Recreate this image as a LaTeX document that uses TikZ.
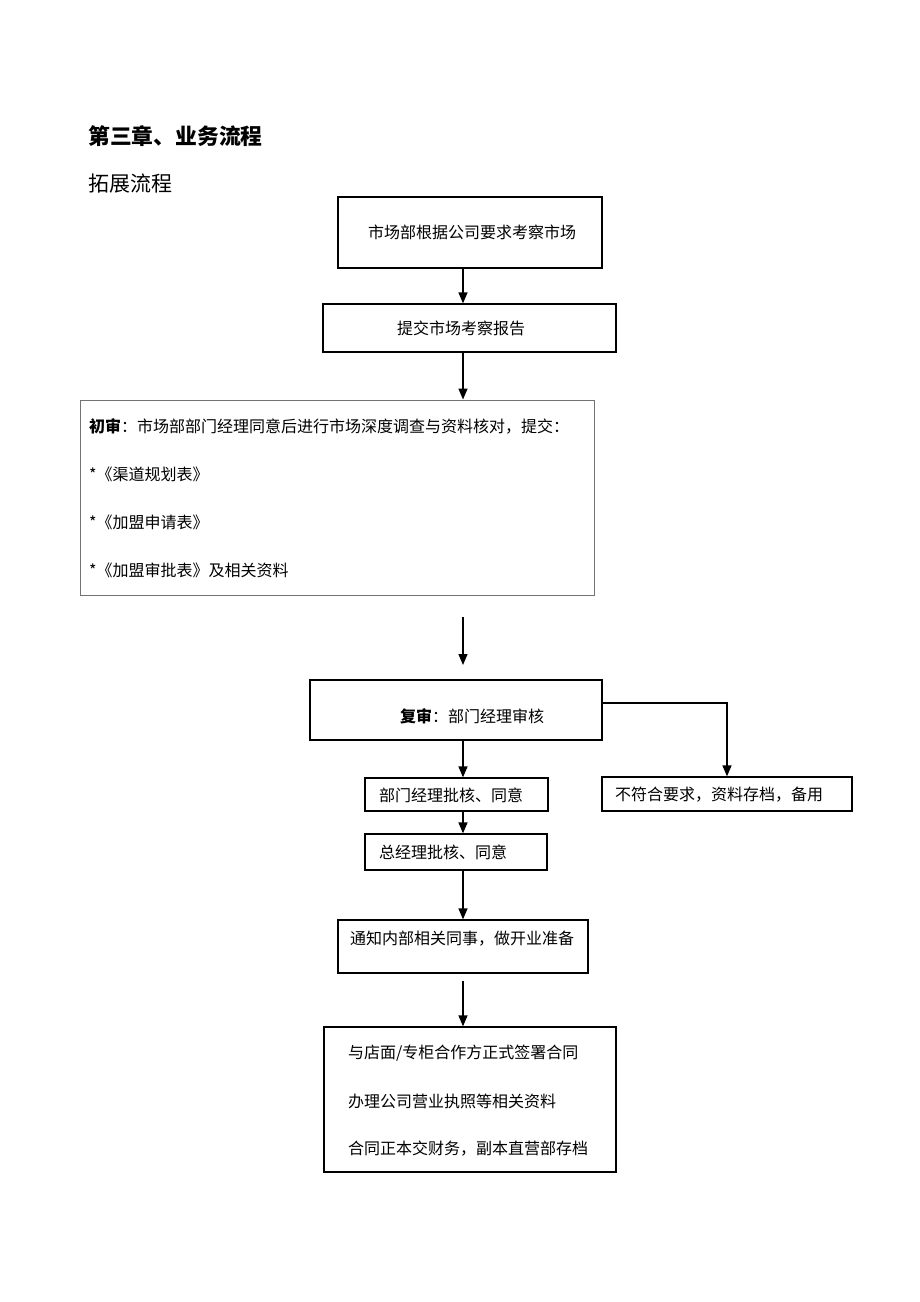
\documentclass[tikz,border=0pt]{standalone}
\usepackage{fontspec}
\setmainfont{Noto Sans CJK SC}
\newfontfamily\cjk{Noto Sans CJK SC}
\usetikzlibrary{arrows.meta}
\tikzset{
  box/.style={draw=black, line width=1.3pt, rectangle, inner sep=0pt},
  graybox/.style={draw=black!55, line width=1pt, rectangle, inner sep=0pt},
  txt/.style={anchor=west, inner sep=0pt, font=\cjk\fontsize{16}{18}\selectfont},
  arr/.style={line width=1.3pt, -{Triangle[length=11pt,width=9pt]}},
  ln/.style={line width=1.3pt}
}
\begin{document}
\begin{tikzpicture}[x=1pt,y=-1pt]
\useasboundingbox (0,0) rectangle (920,1302);
\fill[white] (0,0) rectangle (920,1302);

\coordinate (X) at (463,0);
\coordinate (R) at (0,703);

\node[anchor=west, inner sep=0pt, font=\cjk\bfseries\fontsize{21.8}{24}\selectfont] (title) at (88,136) {第三章、业务流程};
\node[anchor=west, inner sep=0pt, font=\cjk\fontsize{21}{24}\selectfont] (sub) at (88,184) {拓展流程};

% boxes
\node[box, minimum width=264pt, minimum height=71pt] (b1) at (470,232.5) {};
\node[box, minimum width=293pt, minimum height=48pt] (b2) at (469.5,328) {};
\node[graybox, minimum width=514pt, minimum height=195pt] (b3) at (337,497.5) {};
\node[box, minimum width=292pt, minimum height=60pt] (b4) at (456,710) {};
\node[box, minimum width=183pt, minimum height=33pt] (b5) at (456.5,794.5) {};
\node[box, minimum width=250pt, minimum height=34pt] (b6) at (727,794) {};
\node[box, minimum width=182pt, minimum height=36pt] (b7) at (456,852) {};
\node[box, minimum width=250pt, minimum height=53pt] (b8) at (463,946.5) {};
\node[box, minimum width=292pt, minimum height=145pt] (b9) at (470,1099.5) {};

% texts
\node[txt] (t1) at (368,232) {市场部根据公司要求考察市场};
\node[txt] (t2) at (397,328) {提交市场考察报告};
\node[txt] (t3a) at (89,426) {\textbf{初审}：市场部部门经理同意后进行市场深度调查与资料核对，提交：};
\node[txt] (t3b) at (89,474) {*《渠道规划表》};
\node[txt] (t3c) at (89,522) {*《加盟申请表》};
\node[txt] (t3d) at (89,570) {*《加盟审批表》及相关资料};
\node[txt] (t4) at (400,716) {\textbf{复审}：部门经理审核};
\node[txt] (t5) at (379,795) {部门经理批核、同意};
\node[txt] (t6) at (615,795) {不符合要求，资料存档，备用};
\node[txt] (t7) at (379,852) {总经理批核、同意};
\node[txt] (t8) at (350,939) {通知内部相关同事，做开业准备};
\node[txt] (t9a) at (348,1053) {与店面/专柜合作方正式签署合同};
\node[txt] (t9b) at (348,1101) {办理公司营业执照等相关资料};
\node[txt] (t9c) at (348,1149) {合同正本交财务，副本直营部存档};

% free arrow ends
\coordinate (f1) at (463,617);
\coordinate (f2) at (463,665);
\coordinate (f3) at (463,981);

% connectors
\draw[arr] (b1.south -| X) -- (b2.north -| X);
\draw[arr] (b2.south -| X) -- (b3.north -| X);
\draw[arr] (f1) -- (f2);
\draw[arr] (b4.south -| X) -- (b5.north -| X);
\draw[arr] (b4.east |- R) -| (b6.north);
\draw[arr] (b5.south -| X) -- (b7.north -| X);
\draw[arr] (b7.south -| X) -- (b8.north -| X);
\draw[arr] (f3) -- (b9.north -| X);
\end{tikzpicture}
\end{document}
